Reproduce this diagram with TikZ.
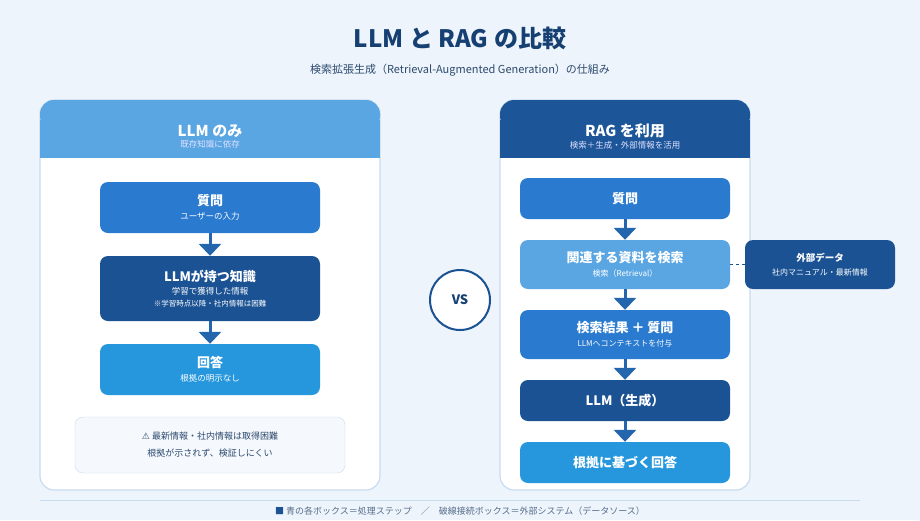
\documentclass[tikz,border=0pt]{standalone}
\usepackage{fontspec}
\setmainfont{Noto Sans CJK JP}
\newfontfamily\symfont{DejaVu Sans}
\usetikzlibrary{arrows.meta,positioning}
\definecolor{bgblue}{HTML}{EEF4FB}
\definecolor{boxmid}{HTML}{2A7BCF}
\definecolor{boxdark}{HTML}{1A5293}
\definecolor{boxlight}{HTML}{5AA6E3}
\definecolor{boxcyan}{HTML}{2697DD}
\definecolor{titlec}{HTML}{163F72}
\definecolor{textc}{HTML}{2C4A6E}
\definecolor{arrowc}{HTML}{2366AE}
\definecolor{panelline}{HTML}{C7DCF0}
\newcommand\steptitle[1]{{\fontsize{13}{15}\selectfont\bfseries #1}}
\newcommand\stepnote[1]{{\fontsize{8.5}{10}\selectfont #1}}
\tikzset{
  step/.style={rounded corners=8pt, minimum width=#1, text=white, align=center, font=\fontsize{9}{12}\selectfont},
  sub/.style={font=\fontsize{8.5}{11}\selectfont, text=white!88!blue},
  flow/.style={arrowc, line width=3pt, -{Triangle[width=22pt,length=12pt]}},
}
\begin{document}
\begin{tikzpicture}[x=1pt,y=-1pt]
    % background
    \fill[bgblue] (0,0) rectangle (920,520);
    \useasboundingbox (0,0) rectangle (920,520);
    \node[text=titlec, font=\fontsize{24}{28}\selectfont\bfseries] (title) at (460,38) {LLM と RAG の比較};
    \node[text=textc, font=\fontsize{11}{13}\selectfont] (subtitle) at (460,70) {検索拡張生成（Retrieval-Augmented Generation）の仕組み};
    % left panel
    \fill[white, draw=panelline, line width=1.2pt, rounded corners=14pt] (40,100) rectangle (380,490);
    \fill[boxlight, rounded corners=14pt] (40,100) rectangle (380,130);
    \fill[boxlight] (40,120) rectangle (380,158);
    \node[text=white, font=\fontsize{15}{18}\selectfont\bfseries] (lhead) at (210,131) {LLM のみ};
    \node[sub, below=-4pt of lhead] (lsub) {既存知識に依存};
    \node[step=220pt, fill=boxmid, minimum height=51pt] (lq) at (210,207.5)
      {\steptitle{質問}\\[2pt]\stepnote{ユーザーの入力}};
    \node[step=220pt, fill=boxdark, minimum height=65pt] (lk) at (210,288.5)
      {\steptitle{LLMが持つ知識}\\[1pt]\stepnote{学習で獲得した情報}\\{\fontsize{7.5}{9}\selectfont ※学習時点以降・社内情報は困難}};
    \node[step=220pt, fill=boxcyan, minimum height=51pt] (la) at (210,369.5)
      {\steptitle{回答}\\[2pt]\stepnote{根拠の明示なし}};
    \draw[flow] (lq) -- (lk);
    \draw[flow] (lk) -- (la);
    \node[draw=panelline, fill=bgblue!60!white, rounded corners=8pt, minimum width=270pt, minimum height=56pt,
      text=textc, align=center, font=\fontsize{9}{17}\selectfont] (note) at (210,445)
      {{\symfont ⚠} 最新情報・社内情報は取得困難\\根拠が示されず、検証しにくい};
    % vs
    \node[circle, draw=boxdark, line width=2pt, fill=white, minimum size=60pt, text=titlec,
      font=\fontsize{13}{15}\selectfont\bfseries] (vs) at (460,300) {VS};
    % right panel
    \fill[white, draw=panelline, line width=1.2pt, rounded corners=14pt] (500,100) rectangle (750,490);
    \fill[boxdark!90!boxmid, rounded corners=14pt] (500,100) rectangle (750,130);
    \fill[boxdark!90!boxmid] (500,120) rectangle (750,158);
    \node[text=white, font=\fontsize{15}{18}\selectfont\bfseries] (rhead) at (625,131) {RAG を利用};
    \node[sub, below=-4pt of rhead] (rsub) {検索＋生成・外部情報を活用};
    \node[step=210pt, fill=boxmid, minimum height=41pt] (rq) at (625,198.5) {\steptitle{質問}};
    \node[step=210pt, fill=boxlight, minimum height=49pt] (rs) at (625,264.5)
      {\steptitle{関連する資料を検索}\\[2pt]{\fontsize{8}{10}\selectfont 検索（Retrieval）}};
    \node[step=210pt, fill=boxmid, minimum height=49pt] (rc) at (625,334.5)
      {\steptitle{検索結果 ＋ 質問}\\[2pt]{\fontsize{8}{10}\selectfont LLMへコンテキストを付与}};
    \node[step=210pt, fill=boxdark, minimum height=41pt] (rg) at (625,400.5) {\steptitle{LLM（生成）}};
    \node[step=210pt, fill=boxcyan, minimum height=41pt] (ra) at (625,462.5) {\steptitle{根拠に基づく回答}};
    \draw[flow] (rq) -- (rs);
    \draw[flow] (rs) -- (rc);
    \draw[flow] (rc) -- (rg);
    \draw[flow] (rg) -- (ra);
    % external data
    \node[step=150pt, fill=boxdark, minimum height=49pt] (ext) at (820,264.5)
      {{\fontsize{9.5}{12}\selectfont\bfseries 外部データ}\\[2pt]{\fontsize{8}{10}\selectfont 社内マニュアル・最新情報}};
    \draw[boxdark, line width=1pt, dashed] (rs) -- (ext);
    % legend
    \draw[panelline, line width=0.8pt] (40,500) -- (860,500);
    \node[text=textc!80!white, font=\fontsize{9}{11}\selectfont] (legend) at (460,511)
      {{\color{boxdark}■} 青の各ボックス＝処理ステップ　／　破線接続ボックス＝外部システム（データソース）};
\end{tikzpicture}
\end{document}
